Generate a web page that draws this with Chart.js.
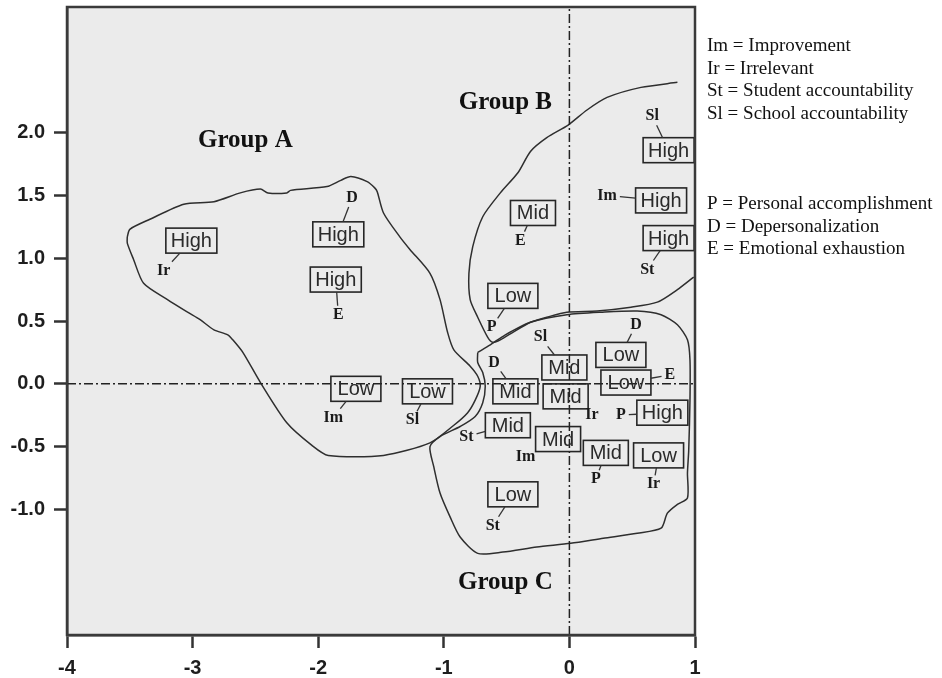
<!DOCTYPE html>
<html>
<head>
<meta charset="utf-8">
<title>Groups A, B and C</title>
<script src="https://cdn.jsdelivr.net/npm/chart.js@4.4.1/dist/chart.umd.min.js"></script>
<style>
  html, body { margin: 0; padding: 0; background: #fff; }
  #wrap { width: 942px; height: 678px; }
</style>
</head>
<body>
<div id="wrap"><canvas id="chart" width="942" height="678"></canvas></div>
<script>
// tick labels
const xTicks = [-4, -3, -2, -1, 0, 1];
const yTicks = [-1.0, -0.5, 0.0, 0.5, 1.0, 1.5, 2.0];

// boxed levels (box centre)
const levels = ['High', 'High', 'High', 'Low', 'Low', 'Mid', 'Low', 'High', 'High', 'High', 'Mid',
                'Low', 'Low', 'Mid', 'Mid', 'High', 'Mid', 'Mid', 'Mid', 'Low', 'Low'];
const levelX = [-3.01, -1.84, -1.86, -1.70, -1.13, -0.29, -0.45, 0.79, 0.73, 0.79, -0.04,
                0.41, 0.45, -0.43, -0.03, 0.74, -0.49, -0.09, 0.29, 0.71, -0.45];
const levelY = [1.14, 1.19, 0.83, -0.04, -0.06, 1.36, 0.70, 1.86, 1.46, 1.16, 0.13,
                0.23, 0.01, -0.06, -0.10, -0.23, -0.33, -0.44, -0.55, -0.57, -0.88];

// short code joined to each box
const codes = ['Ir', 'D', 'E', 'Im', 'Sl', 'E', 'P', 'Sl', 'Im', 'St', 'Sl',
               'D', 'E', 'D', 'Ir', 'P', 'St', 'Im', 'P', 'Ir', 'St'];
const codeX = [-3.23, -1.73, -1.84, -1.88, -1.25, -0.39, -0.62, 0.66, 0.30, 0.62, -0.23,
               0.53, 0.80, -0.60, 0.18, 0.41, -0.82, -0.35, 0.21, 0.67, -0.61];
const codeY = [0.90, 1.48, 0.55, -0.27, -0.29, 1.14, 0.45, 2.13, 1.50, 0.91, 0.37,
               0.47, 0.07, 0.17, -0.25, -0.25, -0.42, -0.58, -0.76, -0.80, -1.13];

// group names
const groupNames = ['Group A', 'Group B', 'Group C'];
const groupX = [-2.58, -0.51, -0.51];
const groupY = [1.94, 2.24, -1.58];

// hand drawn outlines, [x, y]
const outlineA = [[-3.52,1.17],[-3.50,1.23],[-3.34,1.31],[-3.07,1.43],[-2.83,1.45],[-2.62,1.52],
  [-2.46,1.55],[-2.40,1.52],[-2.25,1.52],[-2.22,1.54],[-1.93,1.57],[-1.82,1.62],[-1.74,1.65],
  [-1.61,1.61],[-1.55,1.56],[-1.53,1.53],[-1.48,1.36],[-1.35,1.17],[-1.27,1.07],[-1.11,0.88],
  [-1.03,0.67],[-0.97,0.41],[-0.92,0.27],[-0.79,0.14],[-0.73,0.06],[-0.71,-0.02],[-0.75,-0.13],
  [-0.81,-0.23],[-0.92,-0.33],[-1.11,-0.47],[-1.48,-0.57],[-1.92,-0.57],[-2.05,-0.49],
  [-2.25,-0.31],[-2.46,0.01],[-2.60,0.25],[-2.68,0.35],[-2.72,0.39],[-2.83,0.43],[-2.94,0.51],
  [-3.04,0.57],[-3.20,0.67],[-3.39,0.80],[-3.47,0.99],[-3.52,1.12],[-3.52,1.17]];
const outlineB = [[0.86,2.40],[0.57,2.36],[0.30,2.28],[0.14,2.18],[-0.01,2.06],[-0.18,1.96],
  [-0.31,1.85],[-0.41,1.68],[-0.55,1.52],[-0.69,1.33],[-0.77,1.09],[-0.80,0.88],[-0.79,0.67],
  [-0.73,0.53],[-0.65,0.37],[-0.61,0.33],[-0.55,0.35],[-0.45,0.41],[-0.31,0.49],[-0.18,0.53],
  [-0.02,0.57],[0.22,0.58],[0.49,0.61],[0.70,0.65],[0.86,0.75],[0.99,0.85]];
const outlineC = [[-0.73,0.25],[-0.73,0.17],[-0.69,0.09],[-0.67,-0.02],[-0.69,-0.15],[-0.75,-0.26],
  [-0.87,-0.34],[-1.03,-0.42],[-1.11,-0.50],[-1.08,-0.66],[-1.03,-0.87],[-0.95,-1.06],
  [-0.87,-1.22],[-0.73,-1.35],[-0.53,-1.34],[-0.26,-1.30],[0.01,-1.27],[0.27,-1.23],[0.54,-1.19],
  [0.73,-1.15],[0.78,-1.03],[0.86,-0.96],[0.94,-0.91],[0.94,-0.71],[0.95,-0.53],[0.96,-0.13],
  [0.96,0.19],[0.94,0.35],[0.86,0.47],[0.73,0.55],[0.54,0.58],[0.25,0.57],[-0.02,0.55],
  [-0.31,0.49],[-0.51,0.39],[-0.63,0.31],[-0.73,0.25]];

// key on the right
const keyLines = ['Im = Improvement', 'Ir = Irrelevant', 'St = Student accountability',
                  'Sl = School accountability', '', '', '',
                  'P = Personal accomplishment', 'D = Depersonalization', 'E = Emotional exhaustion'];

const sans = '"Liberation Sans", Arial, Helvetica, sans-serif';
const serif = '"Liberation Serif", "Times New Roman", Times, serif';
const boxW = { High: 51, Mid: 45, Low: 50 };
const boxH = 25;

const toPts = arr => arr.map(p => ({ x: p[0], y: p[1] }));

function outline(arr) {
    return {
        data: toPts(arr),
        showLine: true,
        borderColor: '#2e2e2e',
        borderWidth: 1.5,
        pointRadius: 0,
        tension: 0.25,
        fill: false
    };
}

function refLine(pts) {
    return {
        data: pts,
        showLine: true,
        borderColor: '#222',
        borderWidth: 1.5,
        borderDash: [9, 3, 2, 3],
        pointRadius: 0,
        fill: false
    };
}

const overlay = {
    id: 'overlay',
    beforeDraw(chart) {
        const { ctx, chartArea: a } = chart;
        ctx.save();
        ctx.fillStyle = '#ebebeb';
        ctx.fillRect(a.left, a.top, a.width, a.height);
        ctx.restore();
    },
    afterDatasetsDraw(chart) {
        const { ctx, chartArea: a, scales: { x, y } } = chart;
        ctx.save();
        ctx.beginPath();
        ctx.rect(a.left, a.top, a.width, a.height);
        ctx.clip();
        ctx.textAlign = 'center';
        ctx.textBaseline = 'middle';

        levels.forEach((lv, i) => {
            const bx = x.getPixelForValue(levelX[i]);
            const by = y.getPixelForValue(levelY[i]);
            const w = boxW[lv], h = boxH;
            ctx.strokeStyle = '#262626';
            ctx.lineWidth = 1.6;
            ctx.strokeRect(bx - w / 2, by - h / 2, w, h);
            ctx.fillStyle = '#2a2a2a';
            ctx.font = '20px ' + sans;
            ctx.fillText(lv, bx, by + 1);

            // code letter and its connector
            const cx = x.getPixelForValue(codeX[i]);
            const cy = y.getPixelForValue(codeY[i]);
            ctx.font = 'bold 16px ' + serif;
            ctx.fillStyle = '#1a1a1a';
            ctx.fillText(codes[i], cx, cy);
            const tw = ctx.measureText(codes[i]).width;
            const ux = cx - bx, uy = cy - by;
            const tBox = Math.min(ux ? (w / 2) / Math.abs(ux) : Infinity, uy ? (h / 2) / Math.abs(uy) : Infinity);
            const tTxt = Math.min(ux ? (tw / 2 + 3) / Math.abs(ux) : Infinity, uy ? 9 / Math.abs(uy) : Infinity);
            if (tBox + tTxt < 1) {
                ctx.beginPath();
                ctx.moveTo(bx + ux * tBox, by + uy * tBox);
                ctx.lineTo(cx - ux * tTxt, cy - uy * tTxt);
                ctx.strokeStyle = '#333';
                ctx.lineWidth = 1.3;
                ctx.stroke();
            }
        });

        ctx.font = 'bold 25px ' + serif;
        ctx.fillStyle = '#111';
        groupNames.forEach((g, i) => {
            ctx.fillText(g, x.getPixelForValue(groupX[i]), y.getPixelForValue(groupY[i]));
        });
        ctx.restore();
    },
    afterDraw(chart) {
        const { ctx, chartArea: a } = chart;
        ctx.save();
        ctx.strokeStyle = '#3a3a3a';
        ctx.lineWidth = 2.5;
        ctx.strokeRect(a.left, a.top, a.width, a.height);

        ctx.font = '19px ' + serif;
        ctx.fillStyle = '#111';
        ctx.textAlign = 'left';
        ctx.textBaseline = 'middle';
        keyLines.forEach((t, i) => {
            if (t) ctx.fillText(t, a.right + 12, 46 + i * 22.6);
        });
        ctx.restore();
    }
};

new Chart(document.getElementById('chart'), {
    type: 'scatter',
    data: {
        datasets: [
            refLine([{ x: 0, y: -2 }, { x: 0, y: 3 }]),
            refLine([{ x: -4, y: 0 }, { x: 1, y: 0 }]),
            outline(outlineA),
            outline(outlineB),
            outline(outlineC)
        ]
    },
    options: {
        responsive: false,
        animation: false,
        layout: { padding: { left: 0, right: 247, top: 7, bottom: 0 } },
        plugins: {
            legend: { display: false },
            tooltip: { enabled: false }
        },
        scales: {
            x: {
                type: 'linear',
                min: -4,
                max: 1,
                afterBuildTicks: s => { s.ticks = xTicks.map(v => ({ value: v })); },
                afterFit: s => { s.height = 43; s.paddingLeft = 0; s.paddingRight = 0; },
                ticks: {
                    color: '#1e1e1e',
                    padding: 8,
                    font: { family: sans, size: 20, weight: 'bold' },
                    callback: v => String(v)
                },
                grid: { drawOnChartArea: false, drawTicks: true, tickLength: 13, tickWidth: 2.5, tickColor: '#333' },
                border: { display: true, color: '#333', width: 2.5 }
            },
            y: {
                type: 'linear',
                min: -2,
                max: 3,
                afterBuildTicks: s => { s.ticks = yTicks.map(v => ({ value: v })); },
                afterFit: s => { s.width = 67; s.paddingTop = 0; s.paddingBottom = 0; },
                ticks: {
                    color: '#1e1e1e',
                    padding: 9,
                    font: { family: sans, size: 20, weight: 'bold' },
                    callback: v => Number(v).toFixed(1)
                },
                grid: { drawOnChartArea: false, drawTicks: true, tickLength: 13, tickWidth: 2.5, tickColor: '#333' },
                border: { display: true, color: '#333', width: 2.5 }
            }
        }
    },
    plugins: [overlay]
});
</script>
</body>
</html>
